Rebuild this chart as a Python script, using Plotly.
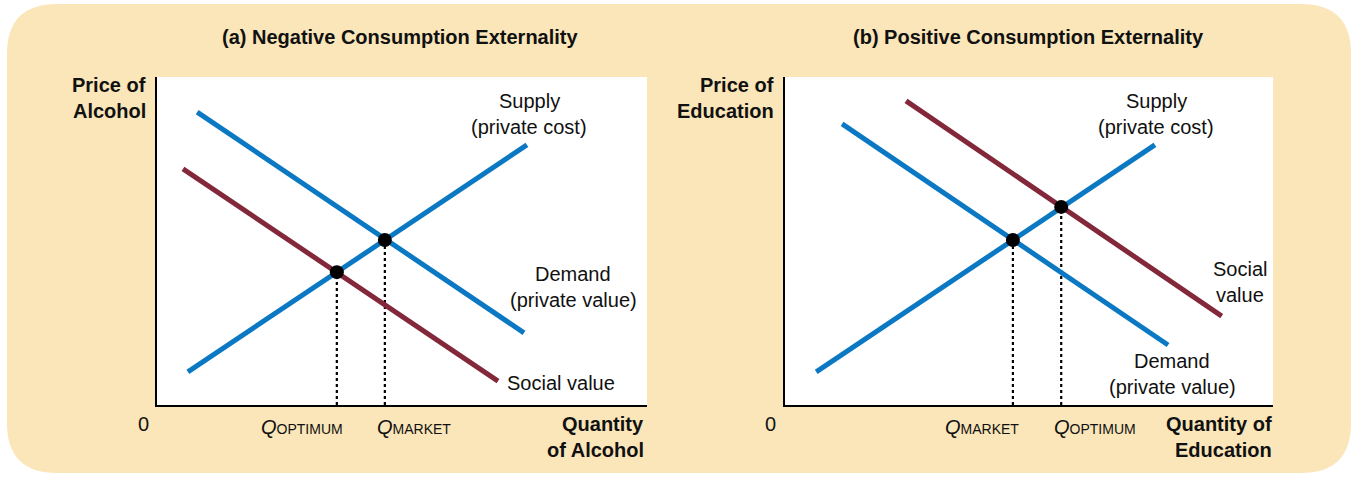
import plotly.graph_objects as go
from plotly.subplots import make_subplots

# panel (a): alcohol -- each line as two end points, axes run 0..100
a_demand_x = [8.2, 74.9]
a_demand_y = [89.3, 22.0]
a_supply_x = [6.3, 75.5]
a_supply_y = [10.1, 79.3]
a_social_x = [5.3, 69.6]
a_social_y = [72.0, 7.3]
a_eq_x = [36.7, 46.5]      # optimum, market
a_eq_y = [40.5, 50.3]

# panel (b): education
b_demand_x = [11.7, 78.5]
b_demand_y = [85.7, 18.3]
b_supply_x = [6.4, 75.8]
b_supply_y = [10.1, 79.3]
b_social_x = [24.8, 89.5]
b_social_y = [92.7, 27.1]
b_eq_x = [46.7, 56.6]      # market, optimum
b_eq_y = [50.3, 60.4]

W, H = 1358, 477
BLUE = "#0A78C2"
MAROON = "#82283A"
TAN = "#FAE6B9"
FONT = "Liberation Sans, Arial, sans-serif"

fig = make_subplots(rows=1, cols=2)


def add_panel(col, dem_x, dem_y, sup_x, sup_y, soc_x, soc_y, eq_x, eq_y):
    for qx, qy in zip(eq_x, eq_y):
        fig.add_trace(go.Scatter(x=[qx, qx], y=[0, qy], mode="lines",
                                 line=dict(color="black", width=2.2, dash="dot")),
                      row=1, col=col)
    fig.add_trace(go.Scatter(x=soc_x, y=soc_y, mode="lines",
                             line=dict(color=MAROON, width=5)), row=1, col=col)
    fig.add_trace(go.Scatter(x=dem_x, y=dem_y, mode="lines",
                             line=dict(color=BLUE, width=5)), row=1, col=col)
    fig.add_trace(go.Scatter(x=sup_x, y=sup_y, mode="lines",
                             line=dict(color=BLUE, width=5)), row=1, col=col)
    fig.add_trace(go.Scatter(x=eq_x, y=eq_y, mode="markers",
                             marker=dict(color="black", size=14)), row=1, col=col)


add_panel(1, a_demand_x, a_demand_y, a_supply_x, a_supply_y,
          a_social_x, a_social_y, a_eq_x, a_eq_y)
add_panel(2, b_demand_x, b_demand_y, b_supply_x, b_supply_y,
          b_social_x, b_social_y, b_eq_x, b_eq_y)

axis = dict(range=[0, 100], showgrid=False, zeroline=False, showticklabels=False,
            ticks="", showline=True, linecolor="black", linewidth=1.5, fixedrange=True)
fig.update_xaxes(**axis)
fig.update_yaxes(**axis)
fig.update_layout(
    xaxis=dict(domain=[157 / W, 647 / W]),
    xaxis2=dict(domain=[785 / W, 1273 / W]),
    yaxis=dict(domain=[1 - 405 / H, 1 - 77 / H]),
    yaxis2=dict(domain=[1 - 405 / H, 1 - 77 / H]),
)


def px(x, y):
    return x / W, 1 - y / H


# rounded tan background, then white plot areas
x0, y0, x1, y1, r = 7, 4, 1351, 473, 50
pts = [
    ("M", x0 + r, y0), ("L", x1 - r, y0), ("Q", x1, y0, x1, y0 + r),
    ("L", x1, y1 - r), ("Q", x1, y1, x1 - r, y1), ("L", x0 + r, y1),
    ("Q", x0, y1, x0, y1 - r), ("L", x0, y0 + r), ("Q", x0, y0, x0 + r, y0),
]
path = ""
for p in pts:
    cmd, coords = p[0], p[1:]
    parts = []
    for i in range(0, len(coords), 2):
        fx, fy = px(coords[i], coords[i + 1])
        parts.append(f"{fx:.5f},{fy:.5f}")
    path += cmd + " ".join(parts) + " "
path += "Z"
fig.add_shape(type="path", path=path, xref="paper", yref="paper",
              fillcolor=TAN, line=dict(width=0), layer="below")
for xr, yr in (("x domain", "y domain"), ("x2 domain", "y2 domain")):
    fig.add_shape(type="rect", xref=xr, yref=yr, x0=0, x1=1, y0=0, y1=1,
                  fillcolor="white", line=dict(width=0), layer="below")


def label(text, x, y, xanchor="center", bold=False, size=20):
    fx, fy = px(x, y)
    fig.add_annotation(text=f"<b>{text}</b>" if bold else text, x=fx, y=fy,
                       xref="paper", yref="paper", xanchor=xanchor, yanchor="middle",
                       showarrow=False, font=dict(family=FONT, size=size, color="#111"))


def lines(texts, x, y, xanchor="center", bold=False, size=20, gap=26):
    for i, t in enumerate(texts):
        label(t, x, y + i * gap, xanchor=xanchor, bold=bold, size=size)


# titles
label("(a) Negative Consumption Externality", 400, 37, bold=True, size=20)
label("(b) Positive Consumption Externality", 1028, 37, bold=True, size=20)

# axis titles and origin
lines(["Price of", "Alcohol"], 148, 85, xanchor="right", bold=True)
lines(["Quantity", "of Alcohol"], 646, 424, xanchor="right", bold=True)
lines(["Price of", "Education"], 776, 85, xanchor="right", bold=True)
lines(["Quantity of", "Education"], 1274, 424, xanchor="right", bold=True)
label("0", 143, 424)
label("0", 770, 424)

q_opt = "<i>Q</i><span style='font-size:14px'>OPTIMUM</span>"
q_mkt = "<i>Q</i><span style='font-size:14px'>MARKET</span>"
label(q_opt, 302, 427)
label(q_mkt, 414, 427)
label(q_mkt, 982, 427)
label(q_opt, 1095, 427)

# curve labels
lines(["Supply", "(private cost)"], 529, 101)
lines(["Demand", "(private value)"], 573, 274)
label("Social value", 505, 383, xanchor="left")
lines(["Supply", "(private cost)"], 1156, 101)
lines(["Social", "value"], 1240, 269)
lines(["Demand", "(private value)"], 1172, 361)

fig.update_layout(
    width=W, height=H, margin=dict(l=0, r=0, t=0, b=0),
    paper_bgcolor="white", plot_bgcolor="rgba(0,0,0,0)",
    showlegend=False, font=dict(family=FONT),
)
fig.write_html("out.html", config={"displayModeBar": False},
               post_script="document.body.style.margin='0';")
